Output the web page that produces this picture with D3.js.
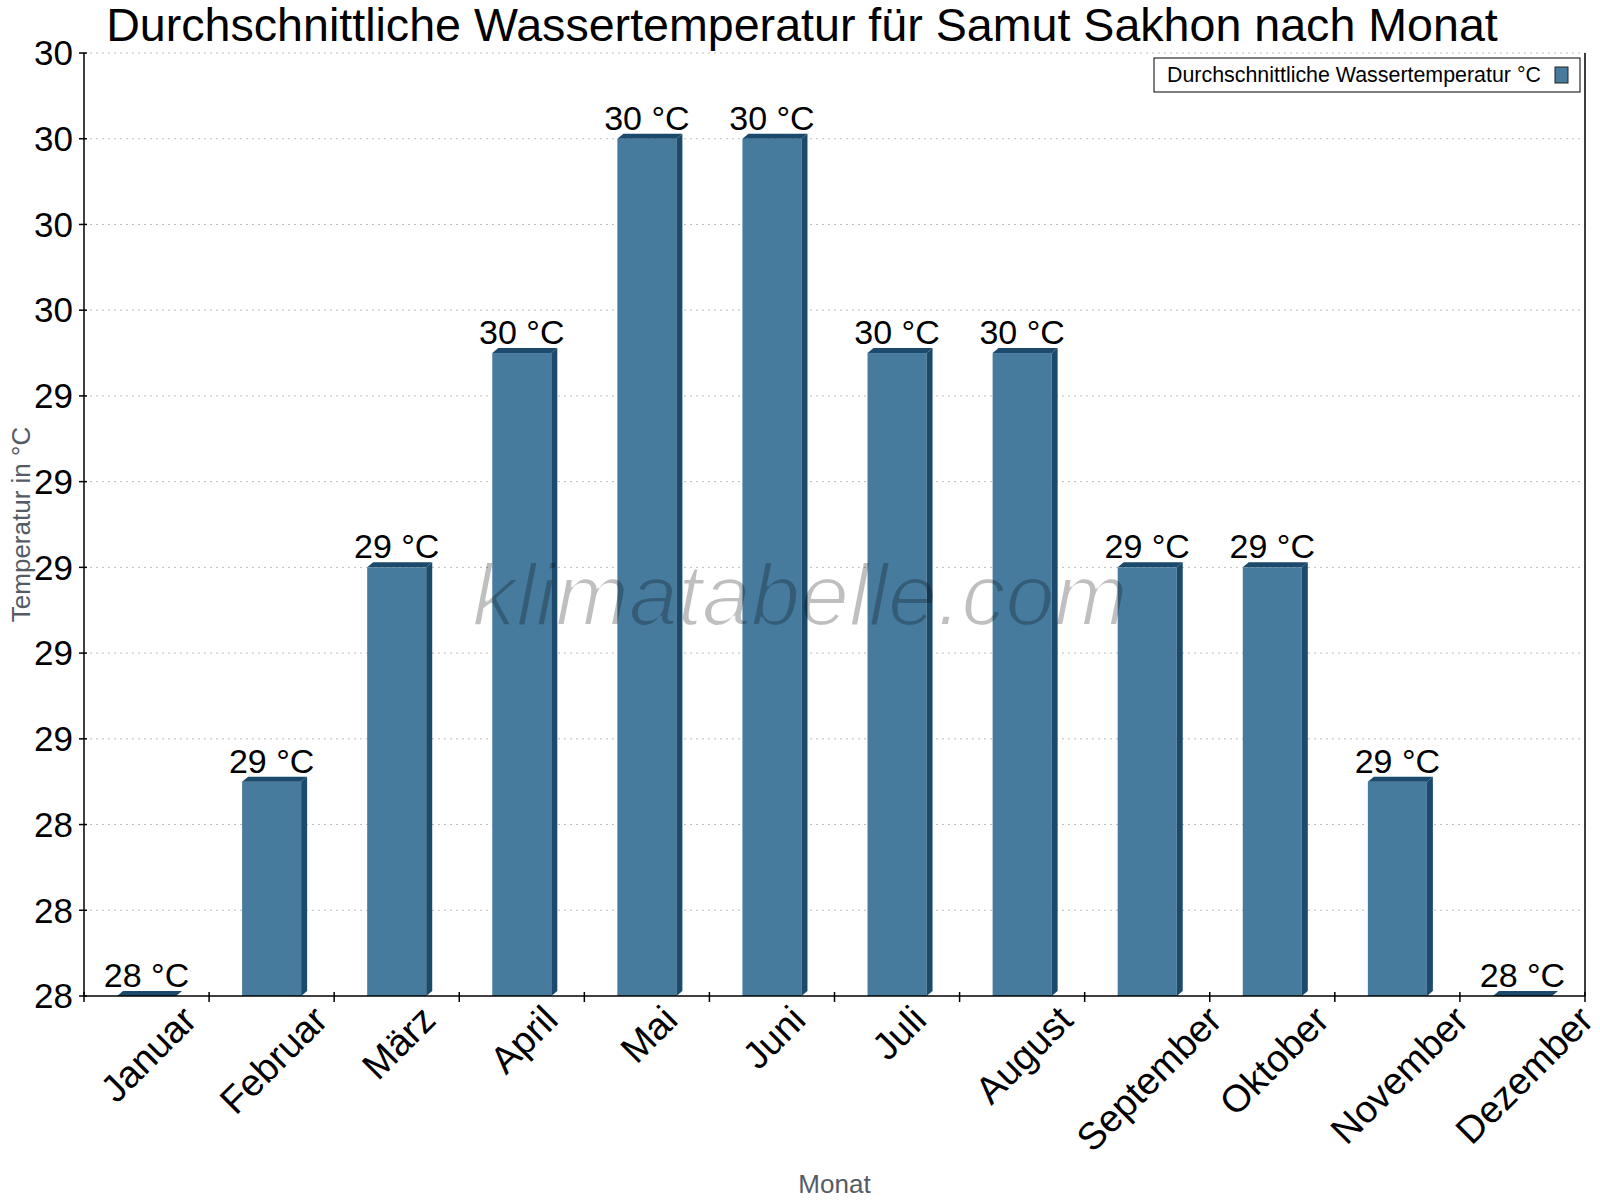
<!DOCTYPE html>
<html>
<head>
<meta charset="utf-8">
<script src="https://cdn.jsdelivr.net/npm/d3@7/dist/d3.min.js"></script>
<style>
  html, body { margin: 0; padding: 0; background: #fff; }
  svg { display: block; }
  text { font-family: "Liberation Sans", Arial, sans-serif; }
</style>
</head>
<body>
<svg id="chart" width="1600" height="1200"></svg>
<script>
// ---- data ----
const months = ["Januar", "Februar", "März", "April", "Mai", "Juni", "Juli", "August", "September", "Oktober", "November", "Dezember"];
const waterTemps = [28.0, 28.5, 29.0, 29.5, 30.0, 30.0, 29.5, 29.5, 29.0, 29.0, 28.5, 28.0];
const barLabels = ["28 °C", "29 °C", "29 °C", "30 °C", "30 °C", "30 °C", "30 °C", "30 °C", "29 °C", "29 °C", "29 °C", "28 °C"];
const yTickValues = [28.0, 28.2, 28.4, 28.6, 28.8, 29.0, 29.2, 29.4, 29.6, 29.8, 30.0, 30.2];
const yTickLabels = ["28", "28", "28", "29", "29", "29", "29", "29", "30", "30", "30", "30"];
const yDomain = [28.0, 30.2];
const titleText = "Durchschnittliche Wassertemperatur für Samut Sakhon nach Monat";
const legendText = "Durchschnittliche Wassertemperatur °C";
const yAxisTitle = "Temperatur in °C";
const xAxisTitle = "Monat";
const watermarkText = "klimatabelle.com";

// ---- layout ----
const W = 1600, H = 1200;
const plot = { left: 84, right: 1585, top: 53, bottom: 996 };
const faceColor = "#467b9d";
const darkColor = "#1b4a6c";
const depthX = 6, depthY = 5;

const svg = d3.select("#chart");
const defs = svg.append("defs");
const thin = defs.append("filter").attr("id", "thin").attr("x", "-5%").attr("y", "-20%").attr("width", "110%").attr("height", "140%");
thin.append("feMorphology").attr("operator", "erode").attr("radius", 1.1);

svg.append("rect").attr("width", W).attr("height", H).attr("fill", "#fff");

const x = d3.scaleBand().domain(months).range([plot.left, plot.right]).padding(0);
const y = d3.scaleLinear().domain(yDomain).range([plot.bottom, plot.top]);
const faceW = x.bandwidth() * 0.472;

// gridlines
svg.append("g").selectAll("line").data(yTickValues.slice(1)).join("line")
  .attr("x1", plot.left).attr("x2", plot.right)
  .attr("y1", d => y(d)).attr("y2", d => y(d))
  .attr("stroke", "#bdbdbd").attr("stroke-width", 1).attr("stroke-dasharray", "2,4");

// bars (3D style)
const bars = svg.append("g");
months.forEach((m, i) => {
  const v = waterTemps[i];
  const x0 = x(m) + (x.bandwidth() - faceW) / 2;
  const x1 = x0 + faceW;
  const yt = y(v), yb = y(yDomain[0]);
  if (yb - yt > 0.5) {
    bars.append("rect").attr("x", x0).attr("y", yt).attr("width", faceW).attr("height", yb - yt).attr("fill", faceColor);
  }
  bars.append("path").attr("d", `M${x1},${yt} L${x1 + depthX},${yt - depthY} L${x1 + depthX},${yb - depthY} L${x1},${yb} Z`).attr("fill", darkColor);
  bars.append("path").attr("d", `M${x0},${yt} L${x0 + depthX},${yt - depthY} L${x1 + depthX},${yt - depthY} L${x1},${yt} Z`).attr("fill", darkColor);
});

// axes
const axes = svg.append("g").attr("stroke", "#000").attr("stroke-width", 1.5);
axes.append("line").attr("x1", plot.left).attr("x2", plot.left).attr("y1", plot.top).attr("y2", plot.bottom);
axes.append("line").attr("x1", plot.right).attr("x2", plot.right).attr("y1", plot.top).attr("y2", plot.bottom);
axes.append("line").attr("x1", plot.left).attr("x2", plot.right).attr("y1", plot.bottom).attr("y2", plot.bottom);
axes.selectAll(".yt").data(yTickValues).join("line")
  .attr("x1", plot.left - 5).attr("x2", plot.left + 3)
  .attr("y1", d => y(d)).attr("y2", d => y(d));
const xBounds = months.map(m => x(m)).concat([x(months[months.length - 1]) + x.bandwidth()]);
axes.selectAll(".xt").data(xBounds).join("line")
  .attr("x1", d => d).attr("x2", d => d)
  .attr("y1", plot.bottom - 4).attr("y2", plot.bottom + 6);

// y tick labels
svg.append("g").selectAll("text").data(yTickValues).join("text")
  .attr("x", plot.left - 11).attr("y", d => y(d)).attr("dy", "0.35em")
  .attr("text-anchor", "end").attr("font-size", 35).attr("fill", "#000")
  .text((d, i) => yTickLabels[i]);

// x tick labels, rotated -45, bbox centred on band
const xl = svg.append("g");
months.forEach((m, i) => {
  const g = xl.append("g");
  g.append("text").attr("transform", "rotate(-45)")
    .attr("text-anchor", "middle").attr("dominant-baseline", "central")
    .attr("font-size", 38).attr("fill", "#000").text(m);
  const bb = g.node().getBBox();
  const cx = x(m) + x.bandwidth() / 2 + 2;
  g.attr("transform", `translate(${cx - (bb.x + bb.width / 2)},${plot.bottom + 2 - bb.y})`);
});

// watermark
svg.append("text").attr("x", 800).attr("y", 625).attr("text-anchor", "middle")
  .attr("font-family", "Roboto, sans-serif").attr("font-style", "italic").attr("font-weight", 300)
  .attr("font-size", 88).attr("fill", "#000").attr("fill-opacity", 0.25)
  .attr("filter", "url(#thin)")
  .text(watermarkText);

// bar value labels
svg.append("g").selectAll("text").data(months).join("text")
  .attr("x", d => x(d) + x.bandwidth() / 2)
  .attr("y", (d, i) => y(waterTemps[i]) - depthY - 4)
  .attr("text-anchor", "middle").attr("font-size", 34).attr("fill", "#000")
  .text((d, i) => barLabels[i]);

// title
svg.append("text").attr("x", 802).attr("y", 41).attr("text-anchor", "middle")
  .attr("font-size", 46.6).attr("fill", "#000").text(titleText);

// axis titles
svg.append("text").attr("x", (plot.left + plot.right) / 2).attr("y", 1193)
  .attr("text-anchor", "middle").attr("font-size", 26).attr("fill", "#545b64").text(xAxisTitle);
svg.append("text").attr("transform", `translate(30,${(plot.top + plot.bottom) / 2}) rotate(-90)`)
  .attr("text-anchor", "middle").attr("font-size", 26).attr("fill", "#545b64").text(yAxisTitle);

// legend
const lg = svg.append("g");
lg.append("rect").attr("x", 1154).attr("y", 58).attr("width", 426).attr("height", 34)
  .attr("fill", "#fff").attr("stroke", "#000").attr("stroke-width", 1);
lg.append("text").attr("x", 1167).attr("y", 82).attr("font-size", 21.4).attr("fill", "#000").text(legendText);
lg.append("rect").attr("x", 1555).attr("y", 67).attr("width", 13).attr("height", 16)
  .attr("fill", faceColor).attr("stroke", "#222").attr("stroke-width", 1);
</script>
</body>
</html>
